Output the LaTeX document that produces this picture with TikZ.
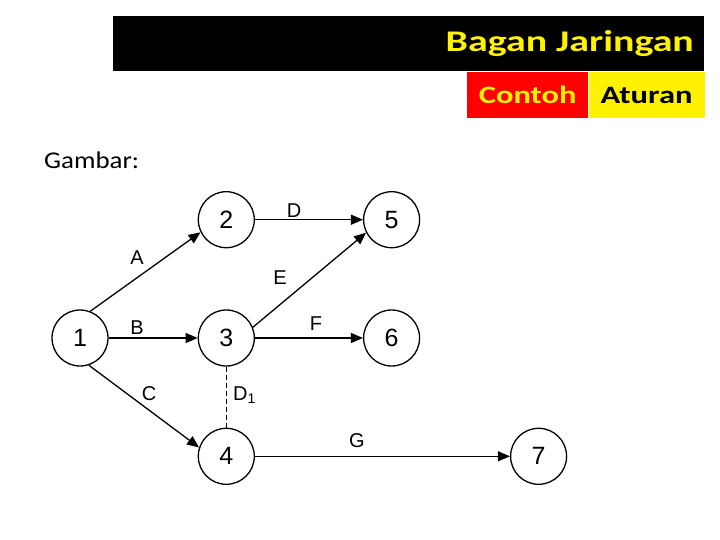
\documentclass[tikz,border=0pt]{standalone}
\usepackage{graphicx}
\usepackage{fontspec}
\setmainfont{Liberation Sans}
\newfontfamily\calibri{Carlito}
\usetikzlibrary{arrows.meta, positioning}

\begin{document}
\begin{tikzpicture}[
			x=1pt, y=-1pt,
			node distance=61pt and 89pt,
			event/.style={circle, draw, line width=1.3pt, minimum size=56pt, inner sep=0pt, font=\fontsize{25}{25}\selectfont},
			act/.style={-{Triangle[length=12pt, width=10pt]}, line width=1.3pt},
			dummy/.style={dashed, dash pattern=on 5pt off 3pt, line width=0.9pt},
			lbl/.style={inner sep=0pt, font=\fontsize{20}{20}\selectfont},
			head/.style={inner sep=0pt, font=\calibri\bfseries\fontsize{30}{30}\selectfont}
			]
			\useasboundingbox (0,0) rectangle (720,540);
			% title bar
			\fill (113,16) rectangle (704,71);
			\node[head, text=yellow, anchor=east] (title) at (694,44) {\scalebox{1.33}[1]{Bagan Jaringan}};
			\node[head, fill=red, text=yellow, minimum width=121pt, minimum height=46pt, anchor=north west, font=\calibri\bfseries\fontsize{25}{25}\selectfont] (contoh) at (467,72) {\scalebox{1.3}[1]{Contoh}};
			\node[head, fill=yellow, minimum width=116pt, minimum height=46pt, right=0pt of contoh, font=\calibri\bfseries\fontsize{25}{25}\selectfont] (aturan) {\scalebox{1.3}[1]{Aturan}};
			\node[inner sep=0pt, anchor=west, font=\calibri\fontsize{24}{24}\selectfont] (gambar) at (44,160) {\scalebox{1.12}[1]{Gambar:}};
			% events
			\node[event] (n1) at (80,338) {1};
			\node[event, right=of n1] (n3) {3};
			\node[event, above=of n3] (n2) {2};
			\node[event, below=of n3] (n4) {4};
			\node[event, right=108pt of n2] (n5) {5};
			\node[event, right=108pt of n3] (n6) {6};
			\node[event, right=255pt of n4] (n7) {7};
			% activities
			\draw[act] (n1.69) -- (n2.206);
			\draw[act] (n1.east) -- (n3.west);
			\draw[act] (n1.-72) -- (n4.162);
			\draw[act] (n2.east) -- (n5.west);
			\draw[act] (n3.22) -- (n5.207);
			\draw[act] (n3.east) -- (n6.west);
			\draw[act] (n4.east) -- (n7.west);
			\draw[dummy] (n3.south) -- (n4.north);
			% labels
			\node[lbl] (la) at (137,258) {A};
			\node[lbl] (lb) at (137,328) {B};
			\node[lbl] (lc) at (149,394) {C};
			\node[lbl] (ld) at (294,211) {D};
			\node[lbl] (le) at (280,278) {E};
			\node[lbl] (lf) at (316,324) {F};
			\node[lbl] (lg) at (357,441) {G};
			\node[lbl, anchor=west] (ld1) at (233,395) {D\textsubscript{1}};
		\end{tikzpicture}
\end{document}
